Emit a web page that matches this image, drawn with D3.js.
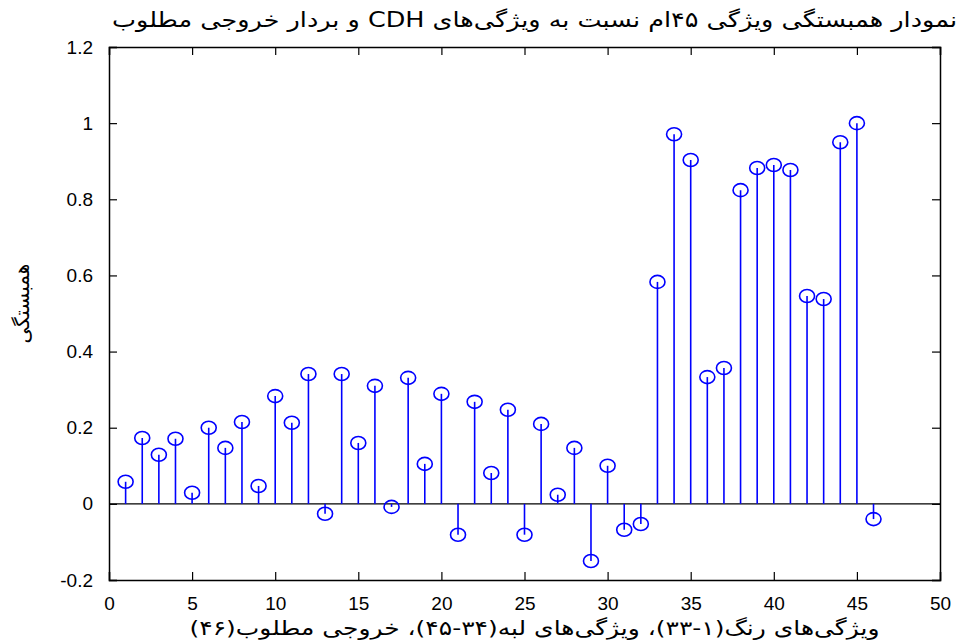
<!DOCTYPE html>
<html>
<head>
<meta charset="utf-8">
<script src="https://cdn.jsdelivr.net/npm/d3@7"></script>
<style>
    body { margin: 0; background: #fff; }
    #chart-area { width: 956px; height: 644px; }
</style>
</head>
<body>
<div id="chart-area"></div>
<script>
// feature index 1..46
let featureIdx = d3.range(1, 47);

// correlation values
let corrValues = [
    0.058, 0.173, 0.129, 0.171, 0.029, 0.200, 0.147, 0.215, 0.047, 0.283,
    0.213, 0.341, -0.026, 0.341, 0.160, 0.310, -0.008, 0.331, 0.105, 0.289,
    -0.081, 0.268, 0.081, 0.247, -0.081, 0.210, 0.024, 0.147, -0.150, 0.100,
    -0.068, -0.053, 0.583, 0.971, 0.903, 0.333, 0.357, 0.824, 0.882, 0.890,
    0.877, 0.546, 0.538, 0.950, 1.000, -0.040
];

let xTicks = [0, 5, 10, 15, 20, 25, 30, 35, 40, 45, 50];
let yTicks = [-0.2, 0, 0.2, 0.4, 0.6, 0.8, 1, 1.2];

let titleText = "نمودار همبستگی ویژگی ۴۵ام نسبت به ویژگی‌های CDH و بردار خروجی مطلوب";
let xLabelText = "ویژگی‌های رنگ(۱-۳۳)، ویژگی‌های لبه(۳۴-۴۵)، خروجی مطلوب(۴۶)";
let yLabelText = "همبستگی";

class StemVis {
    constructor(_parentElement, _data) {
        this.parentElement = _parentElement;
        this.data = _data;

        this.initVis();
    }

    initVis() {
        let vis = this;

        vis.margin = { top: 47, right: 16, bottom: 64, left: 109 };
        vis.width = 956 - vis.margin.left - vis.margin.right;
        vis.height = 644 - vis.margin.top - vis.margin.bottom;

        vis.svg = d3.select("#" + vis.parentElement).append("svg")
            .attr("width", 956)
            .attr("height", 644)
            .append("g")
            .attr("transform", "translate(" + vis.margin.left + "," + vis.margin.top + ")");

        vis.x = d3.scaleLinear().domain([0, 50]).range([0, vis.width]);
        vis.y = d3.scaleLinear().domain([-0.2, 1.2]).range([vis.height, 0]);

        let tickFont = "'Liberation Sans', Arial, sans-serif";

        // axes with inward ticks on all four sides (matlab box style)
        vis.svg.append("g")
            .attr("transform", "translate(0," + vis.height + ")")
            .call(d3.axisBottom(vis.x).tickValues(xTicks).tickSize(-8).tickPadding(17).tickFormat(d => String(d)))
            .call(g => g.selectAll("text").attr("font-size", 19).attr("font-family", tickFont).attr("fill", "#000"));
        vis.svg.append("g")
            .call(d3.axisTop(vis.x).tickValues(xTicks).tickSize(-8).tickFormat(""));
        vis.svg.append("g")
            .call(d3.axisLeft(vis.y).tickValues(yTicks).tickSize(-8).tickPadding(16).tickFormat(d => String(+d.toFixed(1))))
            .call(g => g.selectAll("text").attr("font-size", 19).attr("font-family", tickFont).attr("fill", "#000"));
        vis.svg.append("g")
            .attr("transform", "translate(" + vis.width + ",0)")
            .call(d3.axisRight(vis.y).tickValues(yTicks).tickSize(-8).tickFormat(""));

        vis.svg.selectAll(".domain").attr("stroke", "#000").attr("stroke-width", 1.5);
        vis.svg.selectAll(".tick line").attr("stroke", "#000").attr("stroke-width", 1.2);

        // title and labels
        vis.svg.append("text")
            .attr("x", vis.width / 2 + 10)
            .attr("y", -20)
            .attr("text-anchor", "middle")
            .attr("direction", "rtl")
            .attr("font-family", "'DejaVu Sans', sans-serif")
            .attr("font-size", 21)
            .attr("textLength", 845)
            .attr("lengthAdjust", "spacingAndGlyphs")
            .text(titleText);

        vis.svg.append("text")
            .attr("x", vis.width / 2 + 10)
            .attr("y", vis.height + 55)
            .attr("text-anchor", "middle")
            .attr("direction", "rtl")
            .attr("font-family", "'DejaVu Sans', sans-serif")
            .attr("font-size", 20)
            .attr("textLength", 690)
            .attr("lengthAdjust", "spacingAndGlyphs")
            .text(xLabelText);

        vis.svg.append("text")
            .attr("transform", "translate(-80," + (vis.height / 2 - 10) + ") rotate(-90)")
            .attr("text-anchor", "middle")
            .attr("direction", "rtl")
            .attr("font-family", "'DejaVu Sans', sans-serif")
            .attr("font-size", 20)
            .text(yLabelText);

        vis.wrangleData();
    }

    wrangleData() {
        let vis = this;

        vis.displayData = featureIdx.map((f, i) => ({ f: f, v: vis.data[i] }));

        vis.updateVis();
    }

    updateVis() {
        let vis = this;

        // stem baseline
        vis.svg.append("line")
            .attr("x1", vis.x(0)).attr("x2", vis.x(50))
            .attr("y1", vis.y(0)).attr("y2", vis.y(0))
            .attr("stroke", "#000")
            .attr("stroke-width", 1.2);

        vis.svg.selectAll(".stem")
            .data(vis.displayData)
            .enter().append("line")
            .attr("class", "stem")
            .attr("x1", d => vis.x(d.f)).attr("x2", d => vis.x(d.f))
            .attr("y1", vis.y(0)).attr("y2", d => vis.y(d.v))
            .attr("stroke", "#0000ff")
            .attr("stroke-width", 1.6);

        vis.svg.selectAll(".marker")
            .data(vis.displayData)
            .enter().append("ellipse")
            .attr("class", "marker")
            .attr("cx", d => vis.x(d.f))
            .attr("cy", d => vis.y(d.v))
            .attr("rx", 7.5)
            .attr("ry", 6.5)
            .attr("fill", "none")
            .attr("stroke", "#0000ff")
            .attr("stroke-width", 1.6);
    }
}

let stemVis = new StemVis("chart-area", corrValues);
</script>
</body>
</html>
